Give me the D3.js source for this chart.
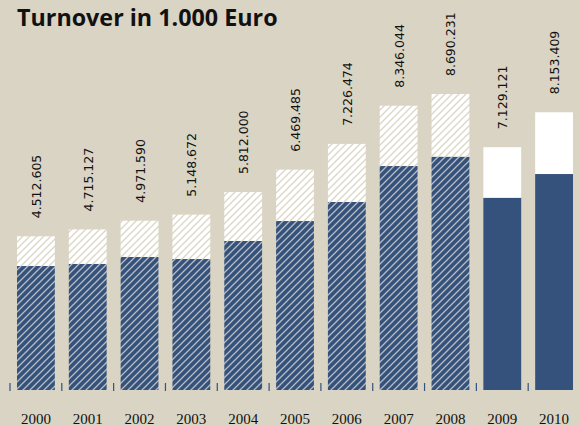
<!DOCTYPE html>
<html>
<head>
<meta charset="utf-8">
<script src="https://cdn.jsdelivr.net/npm/d3@7"></script>
<style>
  body { margin: 0; background: #d9d4c3; }
  svg { display: block; }
</style>
</head>
<body>
<div id="chart"></div>
<script>
// data (values in 1.000 Euro)
const years = ["2000", "2001", "2002", "2003", "2004", "2005", "2006", "2007", "2008", "2009", "2010"];
const totals = [4512.605, 4715.127, 4971.590, 5148.672, 5812.000, 6469.485, 7226.474, 8346.044, 8690.231, 7129.121, 8153.409];
const lower = [3640, 3700, 3905, 3845, 4375, 4960, 5520, 6575, 6845, 5640, 6340];
const totalLabels = ["4.512.605", "4.715.127", "4.971.590", "5.148.672", "5.812.000", "6.469.485", "7.226.474", "8.346.044", "8.690.231", "7.129.121", "8.153.409"];
const hatched = [true, true, true, true, true, true, true, true, true, false, false];

const W = 579, H = 426;
const blue = "#34527c";

const data = years.map((y, i) => ({year: y, total: totals[i], low: lower[i], label: totalLabels[i], hatch: hatched[i]}));

const svg = d3.select("#chart").append("svg")
    .attr("width", W)
    .attr("height", H);

svg.append("rect").attr("width", W).attr("height", H).attr("fill", "#d9d4c3");

const defs = svg.append("defs");
function hatchPattern(id, bg, line) {
  const s = 7;
  const p = defs.append("pattern")
      .attr("id", id)
      .attr("patternUnits", "userSpaceOnUse")
      .attr("width", s).attr("height", s);
  p.append("rect").attr("width", s).attr("height", s).attr("fill", bg);
  p.append("path")
      .attr("d", `M0,${s} L${s},0 M-1,1 L1,-1 M${s - 1},${s + 1} L${s + 1},${s - 1}`)
      .attr("stroke", line)
      .attr("stroke-width", 1.3);
}
hatchPattern("hatchBlue", blue, "#b7bcc2");
hatchPattern("hatchWhite", "#ffffff", "#dcd6c7");

const p = 0.27;
const x = d3.scaleBand()
    .domain(years)
    .range([10, 580])
    .paddingInner(p)
    .paddingOuter(p / 2);

const xTick = d3.scaleBand()
    .domain(years)
    .range([10, 580])
    .padding(0);

const y = d3.scaleLinear()
    .domain([0, 10000])
    .range([390, 49.4]);

// title
svg.append("text")
    .attr("x", 17)
    .attr("y", 26)
    .attr("font-family", "'Open Sans', sans-serif")
    .attr("font-weight", "bold")
    .attr("font-size", 23.3)
    .attr("fill", "#111")
    .text("Turnover in 1.000 Euro");

const bars = svg.append("g").selectAll("g")
    .data(data)
    .join("g");

// upper (white) part
bars.append("rect")
    .attr("x", d => x(d.year))
    .attr("width", x.bandwidth())
    .attr("y", d => y(d.total))
    .attr("height", d => y(d.low) - y(d.total))
    .attr("fill", d => d.hatch ? "url(#hatchWhite)" : "#ffffff");

// lower (blue) part
bars.append("rect")
    .attr("x", d => x(d.year))
    .attr("width", x.bandwidth())
    .attr("y", d => y(d.low))
    .attr("height", d => y(0) - y(d.low))
    .attr("fill", d => d.hatch ? "url(#hatchBlue)" : blue);

// value labels
bars.append("text")
    .attr("transform", d => `translate(${x(d.year) + x.bandwidth() / 2 + 5},${y(d.total) - 18}) rotate(-90)`)
    .attr("font-family", "'DejaVu Sans', sans-serif")
    .attr("font-size", 12.5)
    .attr("fill", "#111")
    .text(d => d.label);

// ticks between bars
svg.append("g").selectAll("line")
    .data(years)
    .join("line")
    .attr("x1", d => xTick(d))
    .attr("x2", d => xTick(d))
    .attr("y1", 383)
    .attr("y2", 391)
    .attr("stroke", blue)
    .attr("stroke-width", 1.2);

// year labels
svg.append("g").selectAll("text")
    .data(years)
    .join("text")
    .attr("x", d => x(d) + x.bandwidth() / 2)
    .attr("y", 424)
    .attr("text-anchor", "middle")
    .attr("font-family", "'Liberation Serif', serif")
    .attr("font-size", 15)
    .attr("fill", "#111")
    .text(d => d);
</script>
</body>
</html>
